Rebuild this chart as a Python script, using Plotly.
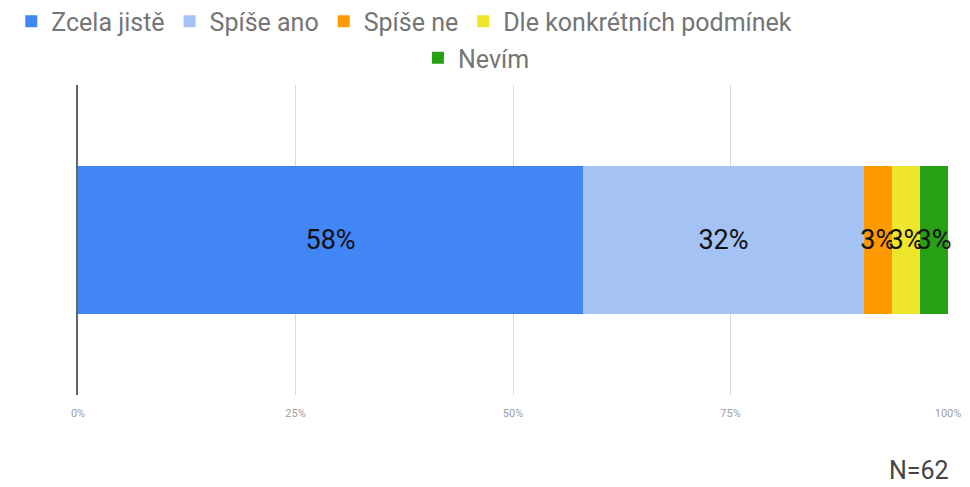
import plotly.graph_objects as go

categories = ["Zcela jistě", "Spíše ano", "Spíše ne", "Dle konkrétních podmínek", "Nevím"]
counts = [36, 20, 2, 2, 2]
total_n = 62
colors = ["#4285f4", "#a4c2f4", "#ff9900", "#efe52a", "#27a016"]
tick_vals = [0, 25, 50, 75, 100]
tick_text = ["0%", "25%", "50%", "75%", "100%"]

percents = [c / total_n * 100 for c in counts]

fig = go.Figure()
for i, (name, p, col) in enumerate(zip(categories, percents, colors)):
    fig.add_trace(go.Bar(
        x=[p], y=["Q"], name=name, orientation="h",
        marker=dict(color=col, line=dict(width=0)),
        text=[f"{round(p)}%"], textposition="inside", insidetextanchor="middle",
        constraintext="none", cliponaxis=False, textangle=0,
        textfont=dict(family="Roboto", size=27, color="#111111"),
        hoverinfo="skip",
        legend="legend" if i < 4 else "legend2",
    ))

W, H = 962, 479
fig.update_layout(
    width=W, height=H,
    barmode="stack", bargap=0.52,
    margin=dict(l=70, r=22, t=77, b=92, autoexpand=False),
    plot_bgcolor="white", paper_bgcolor="white",
    font=dict(family="Roboto", color="#757575"),
    legend=dict(orientation="h", x=0.375, xanchor="center", y=1.205, yanchor="middle",
                font=dict(size=25, color="#757575"), traceorder="normal", itemwidth=30,
                bgcolor="rgba(0,0,0,0)"),
    legend2=dict(orientation="h", x=0.458, xanchor="center", y=1.087, yanchor="middle",
                 font=dict(size=25, color="#757575"), itemwidth=30,
                 bgcolor="rgba(0,0,0,0)"),
    xaxis=dict(range=[0, 100], tickvals=tick_vals, ticktext=tick_text,
               showgrid=True, gridcolor="#d9d9d9", gridwidth=1, zeroline=False,
               ticks="outside", ticklen=8, tickcolor="rgba(0,0,0,0)",
               tickfont=dict(family="Roboto", size=11, color="#9e9e9e"),
               fixedrange=True),
    yaxis=dict(showticklabels=False, showgrid=False, zeroline=False,
               showline=True, linecolor="#666666", linewidth=2, fixedrange=True),
    annotations=[dict(text=f"N={total_n}", xref="paper", yref="paper", x=1, y=-0.242,
                      xanchor="right", yanchor="middle", showarrow=False, xshift=3,
                      font=dict(family="Roboto", size=25, color="#444444"))],
)

fig.write_html("out.html")
